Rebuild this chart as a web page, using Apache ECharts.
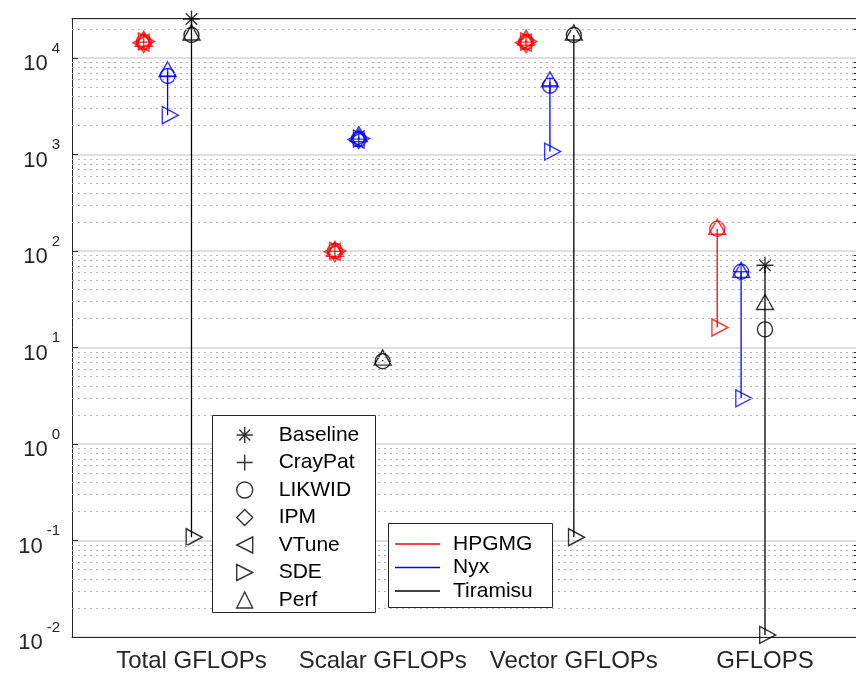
<!DOCTYPE html>
<html><head><meta charset="utf-8">
<script src="https://cdn.jsdelivr.net/npm/echarts@6/dist/echarts.min.js"></script>
<style>html,body{margin:0;padding:0;background:#fff}#c{width:856px;height:673px}</style>
</head><body><div id="c"></div>
<script>
// ---------- data ----------
const categories = ['Total GFLOPs', 'Scalar GFLOPs', 'Vector GFLOPs', 'GFLOPS'];
const methods = ['Baseline', 'CrayPat', 'LIKWID', 'IPM', 'VTune', 'SDE', 'Perf'];
const apps = ['HPGMG', 'Nyx', 'Tiramisu'];

// HPGMG (values per category)
const hpgmgBaseline = [null, null, null, null];
const hpgmgCrayPat  = [14600, 99, 14600, null];
const hpgmgLIKWID   = [14600, 100, 14600, 170];
const hpgmgIPM      = [14300, 97, 14300, null];
const hpgmgVTune    = [14400, 98, 14400, null];
const hpgmgSDE      = [14800, 100, 14800, 16.1];
const hpgmgPerf     = [14900, 99, 15300, 168];

// Nyx
const nyxBaseline = [null, null, null, null];
const nyxCrayPat  = [6500, 1440, 5150, 61];
const nyxLIKWID   = [6500, 1440, 5150, 61];
const nyxIPM      = [null, 1440, null, null];
const nyxVTune    = [null, 1430, null, null];
const nyxSDE      = [2550, 1460, 1070, 2.97];
const nyxPerf     = [7200, 1530, 5650, 60];

// Tiramisu
const tiramisuBaseline = [25300, null, null, 71];
const tiramisuCrayPat  = [null, null, null, null];
const tiramisuLIKWID   = [17300, 7.2, 17300, 15.4];
const tiramisuIPM      = [null, null, null, null];
const tiramisuVTune    = [null, null, null, null];
const tiramisuSDE      = [0.108, null, 0.108, 0.0105];
const tiramisuPerf     = [17300, 7.4, 17300, 27.9];

// ---------- layout / style ----------
const yMin = 0.01, yMax = 25630;
const xMin = 0.375, xMax = 4.476;
const appData = {
  HPGMG: [hpgmgBaseline, hpgmgCrayPat, hpgmgLIKWID, hpgmgIPM, hpgmgVTune, hpgmgSDE, hpgmgPerf],
  Nyx: [nyxBaseline, nyxCrayPat, nyxLIKWID, nyxIPM, nyxVTune, nyxSDE, nyxPerf],
  Tiramisu: [tiramisuBaseline, tiramisuCrayPat, tiramisuLIKWID, tiramisuIPM, tiramisuVTune, tiramisuSDE, tiramisuPerf]
};
const appColors = { HPGMG: '#ff0000', Nyx: '#0000ff', Tiramisu: '#000000' };
const appOffsets = { HPGMG: -0.25, Nyx: -0.125, Tiramisu: 0 };
const markerDefs = {
  Baseline: { symbol: 'path://M5,0L5,10M0,5L10,5M1.6,1.6L8.4,8.4M8.4,1.6L1.6,8.4', size: 17, offset: [0, 0] },
  CrayPat:  { symbol: 'path://M5,0L5,10M0,5L10,5', size: 16, offset: [0, 0] },
  LIKWID:   { symbol: 'circle', size: 15, offset: [0, 0] },
  IPM:      { symbol: 'diamond', size: [13, 19], offset: [0, 0] },
  VTune:    { symbol: 'path://M10,0L0,5L10,10Z', size: [16, 17], offset: [-2.7, 0] },
  SDE:      { symbol: 'path://M0,0L10,5L0,10Z', size: [16, 17], offset: [2.7, 0] },
  Perf:     { symbol: 'triangle', size: [17, 15], offset: [0, -2.5] }
};
const FONT = '"Liberation Sans", Arial, Helvetica, sans-serif';
const AX = '#262626';

const minorVals = [];
for (let e = -2; e <= 4; e++) for (let k = 2; k <= 9; k++) {
  const v = k * Math.pow(10, e);
  if (v < yMax) minorVals.push(v);
}

const series = [];
// minor grid (dotted)
series.push({
  type: 'scatter', data: [], silent: true,
  markLine: {
    silent: true, symbol: ['none', 'none'], label: { show: false }, animation: false,
    lineStyle: { type: [2, 4], color: '#b4b4b4', width: 1 },
    emphasis: { disabled: true },
    data: minorVals.map(v => ({ yAxis: v }))
  }
});
// range lines
apps.forEach(app => {
  categories.forEach((cat, i) => {
    const vals = appData[app].map(a => a[i]).filter(v => v != null);
    if (vals.length < 2) return;
    const lo = Math.min(...vals), hi = Math.max(...vals);
    if (lo === hi) return;
    const x = i + 1 + appOffsets[app];
    series.push({
      type: 'line', data: [[x, lo], [x, hi]], symbol: 'none', silent: true, z: 2,
      lineStyle: { color: appColors[app], width: 1.3 }, animation: false
    });
  });
});
// markers
apps.forEach(app => {
  methods.forEach((m, mi) => {
    const arr = appData[app][mi];
    const data = [];
    arr.forEach((v, i) => { if (v != null) data.push([i + 1 + appOffsets[app], v]); });
    if (!data.length) return;
    const d = markerDefs[m];
    series.push({
      type: 'scatter', name: app + ' ' + m, data, silent: true, z: 3,
      symbol: d.symbol, symbolSize: d.size, symbolOffset: d.offset,
      itemStyle: { color: 'rgba(0,0,0,0)', borderColor: appColors[app], borderWidth: 1.4 },
      animation: false
    });
  });
});
// legend dummies
methods.forEach(m => {
  const d = markerDefs[m];
  series.push({
    type: 'scatter', name: m, data: [], symbol: d.symbol, symbolSize: d.size,
    itemStyle: { color: 'rgba(0,0,0,0)', borderColor: '#000', borderWidth: 1.4 }
  });
});
apps.forEach(app => {
  series.push({ type: 'line', name: app, data: [], itemStyle: { color: appColors[app] }, lineStyle: { color: appColors[app] } });
});

const chart = echarts.init(document.getElementById('c'), null, { renderer: 'canvas' });
chart.setOption({
  animation: false,
  backgroundColor: '#fff',
  textStyle: { fontFamily: FONT },
  grid: { left: 72, right: 0, top: 18.5, bottom: 35 },
  xAxis: [{
    type: 'value', min: xMin, max: xMax, position: 'bottom',
    axisLine: { show: true, lineStyle: { color: AX, width: 1 } },
    axisTick: { show: false },
    splitLine: { show: false },
    axisLabel: {
      customValues: [1, 2, 3, 4],
      formatter: v => categories[Math.round(v) - 1],
      fontSize: 24, color: AX, margin: 12, fontFamily: FONT
    }
  }, {
    type: 'value', min: xMin, max: xMax, position: 'top',
    axisLine: { show: true, lineStyle: { color: AX, width: 1 } },
    axisTick: { show: false }, axisLabel: { show: false }, splitLine: { show: false }
  }],
  yAxis: [{
    type: 'log', logBase: 10, min: yMin, max: yMax,
    axisLine: { show: true, lineStyle: { color: AX, width: 1 } },
    axisTick: { show: true, inside: true, length: 6, lineStyle: { color: AX } },
    splitLine: { show: true, lineStyle: { color: '#d4d4d4', width: 1.5 } },
    axisLabel: {
      showMaxLabel: false, margin: 12,
      formatter: v => '{b|10}{s|' + Math.round(Math.log10(v)) + '}',
      rich: {
        b: { fontSize: 22, color: AX, fontFamily: FONT, lineHeight: 34, verticalAlign: 'bottom' },
        s: { fontSize: 15, color: AX, fontFamily: FONT, verticalAlign: 'top', padding: [0, 0, 0, 4] }
      }
    }
  }, {
    type: 'log', logBase: 10, min: yMin, max: yMax,
    axisLine: { show: false }, axisLabel: { show: false }, splitLine: { show: false },
    axisTick: { show: true, inside: true, length: 4, customValues: minorVals, lineStyle: { color: AX } }
  }],
  graphic: [
    { type: 'rect', z: 100, shape: { x: 212.5, y: 415.5, width: 163, height: 197 },
      style: { fill: '#fff', stroke: AX, lineWidth: 1 } },
    { type: 'rect', z: 100, shape: { x: 388.5, y: 523.5, width: 164, height: 84 },
      style: { fill: '#fff', stroke: AX, lineWidth: 1 } }
  ],
  legend: [{
    z: 110, orient: 'vertical', left: 236, top: 424.5, padding: 0,
    itemWidth: 16, itemHeight: 16, itemGap: 6.5, selectedMode: false,
    textStyle: { fontSize: 21, color: '#000', lineHeight: 16, fontFamily: FONT, padding: [0, 0, 0, 21] },
    itemStyle: { color: 'rgba(0,0,0,0)', borderColor: '#000', borderWidth: 1.4 },
    data: methods.map(m => ({ name: m, icon: markerDefs[m].symbol,
      itemStyle: { color: 'rgba(0,0,0,0)', borderColor: '#000', borderWidth: 1.4 } }))
  }, {
    z: 110, orient: 'vertical', left: 395, top: 533, padding: 0,
    itemWidth: 45, itemHeight: 1.5, itemGap: 1.5, selectedMode: false, icon: 'rect',
    textStyle: { fontSize: 21, color: '#000', lineHeight: 22, fontFamily: FONT, padding: [0, 0, 0, 8] },
    data: apps.map(a => ({ name: a, itemStyle: { color: appColors[a], borderWidth: 0 } }))
  }],
  series
});
</script></body></html>
